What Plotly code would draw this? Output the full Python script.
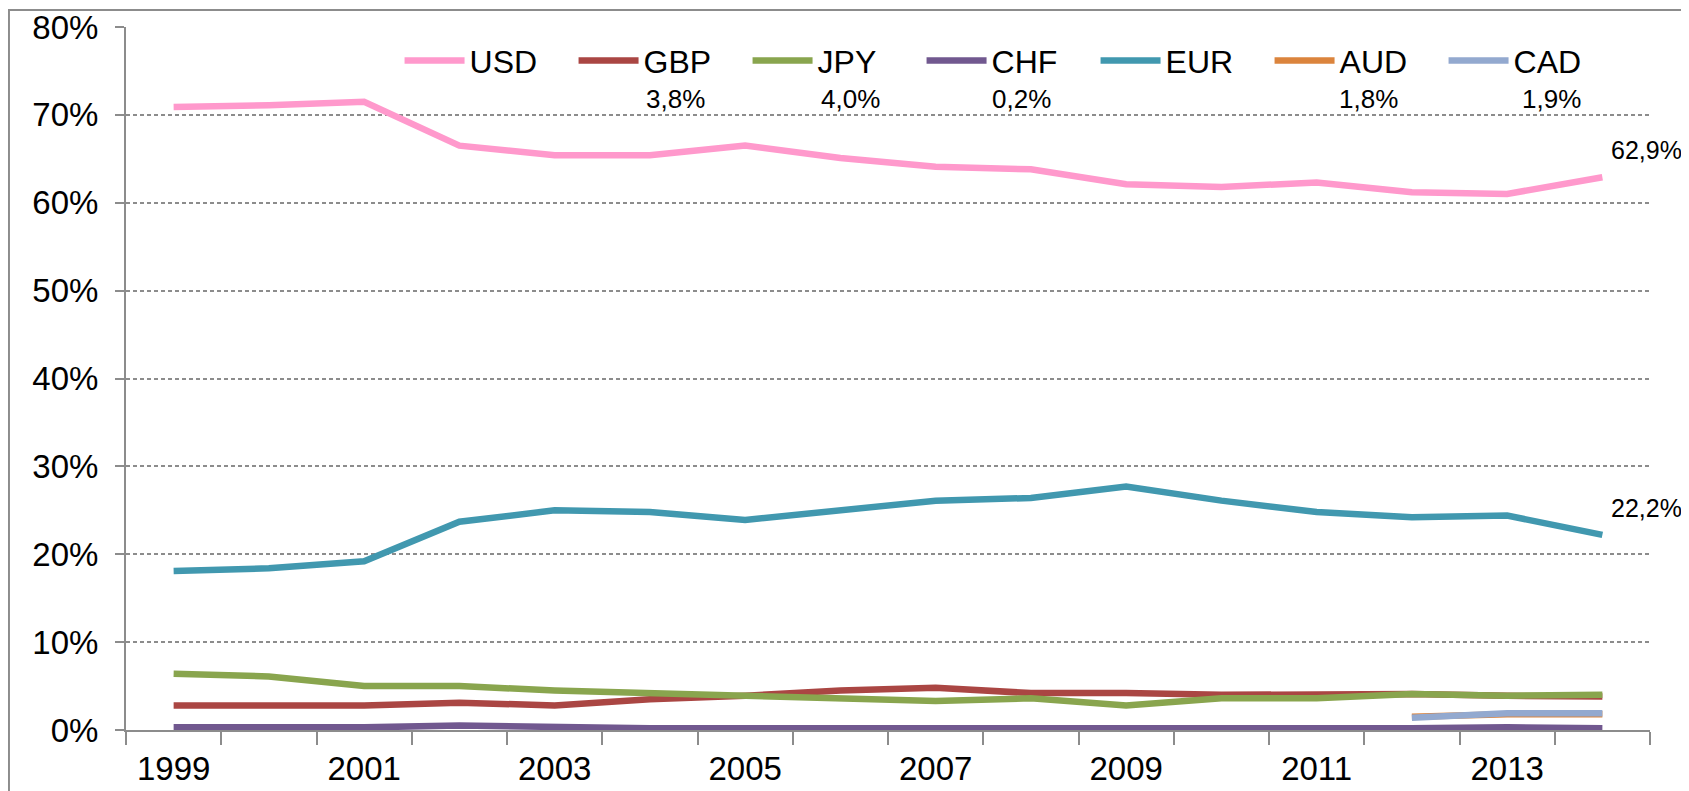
import plotly.graph_objects as go

years = list(range(1999, 2015))
USD = [70.9, 71.1, 71.5, 66.5, 65.4, 65.4, 66.5, 65.1, 64.1, 63.8, 62.1, 61.8, 62.3, 61.2, 61.0, 62.9]
GBP = [2.8, 2.8, 2.8, 3.1, 2.8, 3.5, 3.9, 4.5, 4.8, 4.2, 4.2, 4.0, 4.0, 4.1, 3.9, 3.8]
JPY = [6.4, 6.1, 5.0, 5.0, 4.5, 4.2, 3.9, 3.6, 3.3, 3.6, 2.8, 3.6, 3.6, 4.1, 3.9, 4.0]
CHF = [0.3, 0.3, 0.3, 0.5, 0.3, 0.2, 0.2, 0.2, 0.2, 0.2, 0.1, 0.2, 0.1, 0.2, 0.3, 0.2]
EUR = [18.1, 18.4, 19.2, 23.7, 25.0, 24.8, 23.9, 25.0, 26.1, 26.4, 27.7, 26.1, 24.8, 24.2, 24.4, 22.2]
AUD = [None] * 13 + [1.5, 1.8, 1.8]
CAD = [None] * 13 + [1.4, 1.9, 1.9]

series = [
    ("USD", USD, "#FF99CC"),
    ("GBP", GBP, "#AA4643"),
    ("JPY", JPY, "#89A54E"),
    ("CHF", CHF, "#71588F"),
    ("EUR", EUR, "#4198AF"),
    ("AUD", AUD, "#DB843D"),
    ("CAD", CAD, "#93A9CF"),
]

FONT = "Liberation Sans, Arial, sans-serif"
GREY = "#8C8C8C"

def fmt(v):
    return f"{v:.1f}".replace(".", ",") + "%"

fig = go.Figure()
for name, vals, col in series:
    fig.add_trace(go.Scatter(
        x=years, y=vals, name=name, mode="lines",
        line=dict(color=col, width=6.5),
        connectgaps=False,
    ))

# end labels on the lines
for vals in (USD, EUR):
    fig.add_annotation(x=years[-1], y=vals[-1], text=fmt(vals[-1]), showarrow=False,
                       xanchor="center", yanchor="middle", xshift=44, yshift=27,
                       font=dict(family=FONT, size=25, color="black"))

# 2014 values written under legend entries
legend_labels = [(GBP, 0.3605), (JPY, 0.4757), (CHF, 0.5873), (AUD, 0.8150), (CAD, 0.9351)]
for vals, px in legend_labels:
    fig.add_annotation(x=px, y=0.8976, xref="paper", yref="paper", text=fmt(vals[-1]),
                       showarrow=False, xanchor="center", yanchor="middle",
                       font=dict(family=FONT, size=26, color="black"))

# outer frame
fig.add_shape(type="rect", xref="paper", yref="paper", x0=-0.0768, x1=1.1, y0=-0.2, y1=1.0242,
              line=dict(color=GREY, width=2), fillcolor="rgba(0,0,0,0)", layer="below")

fig.update_layout(
    width=1681, height=783,
    margin=dict(l=118, r=39, t=19, b=61, autoexpand=False),
    paper_bgcolor="white", plot_bgcolor="white",
    font=dict(family=FONT, size=33, color="black"),
    showlegend=True,
    legend=dict(orientation="h", x=0.1795, y=0.952, xanchor="left", yanchor="middle",
                font=dict(family=FONT, size=32, color="black"),
                bgcolor="rgba(0,0,0,0)", itemwidth=60, entrywidth=99, entrywidthmode="pixels",
                traceorder="normal"),
    xaxis=dict(range=[1998.5, 2014.5], tickmode="array", tickvals=years[::2],
               ticktext=[str(y) for y in years[::2]], ticks="", showgrid=False,
               showline=True, linecolor=GREY, linewidth=2, zeroline=False,
               ticklabelstandoff=8, automargin=False,
               minor=dict(tickmode="array", tickvals=[y - 0.5 for y in years] + [years[-1] + 0.5],
                          ticks="outside", ticklen=13, tickwidth=2, tickcolor=GREY, showgrid=False),
               tickfont=dict(family=FONT, size=33)),
    yaxis=dict(range=[0, 80], tickmode="array", tickvals=list(range(0, 81, 10)),
               ticktext=[f"{v}%" for v in range(0, 81, 10)],
               showgrid=True, gridcolor=GREY, gridwidth=2, griddash="4px,3px",
               showline=True, linecolor=GREY, linewidth=2, zeroline=False,
               ticks="outside", ticklen=9, tickwidth=2, tickcolor=GREY, automargin=False,
               ticklabelstandoff=10, tickfont=dict(family=FONT, size=33)),
)

fig.write_html("out.html")
